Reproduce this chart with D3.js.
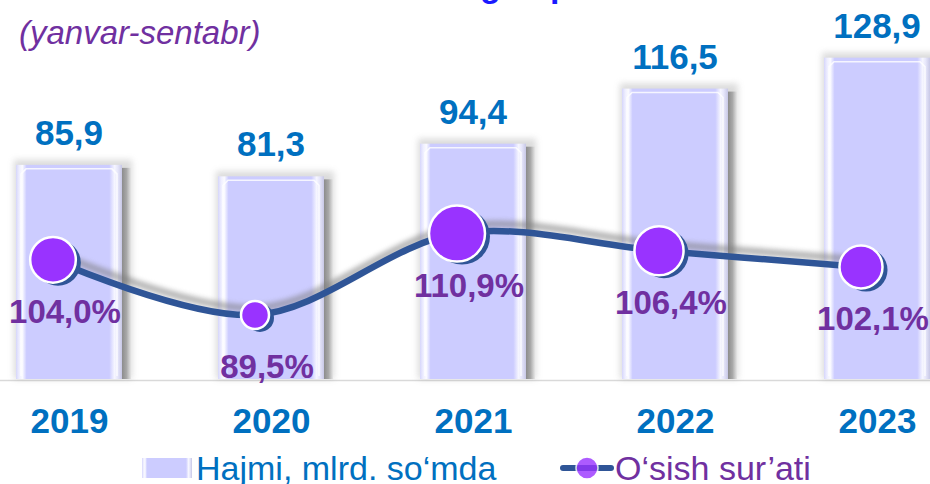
<!DOCTYPE html>
<html>
<head>
<meta charset="utf-8">
<script src="https://cdn.jsdelivr.net/npm/d3@7"></script>
<style>
  html, body { margin: 0; padding: 0; background: #fff; }
  svg { display: block; font-family: "Liberation Sans", Arial, sans-serif; }
</style>
</head>
<body>
<div id="chart"></div>
<script>
// data
var years = ["2019", "2020", "2021", "2022", "2023"];
var volume = [85.9, 81.3, 94.4, 116.5, 128.9];
var volumeLabels = ["85,9", "81,3", "94,4", "116,5", "128,9"];
var growth = [104.0, 89.5, 110.9, 106.4, 102.1];
var growthLabels = ["104,0%", "89,5%", "110,9%", "106,4%", "102,1%"];
var titleText = "Ko\u2018rsatilgan pullik xizmatlar";
var subtitleText = "(yanvar-sentabr)";
var legendBars = "Hajmi, mlrd. so\u2018mda";
var legendLine = "O\u2018sish sur\u2019ati";

var width = 930, height = 484;
var barColor = "#ccccff", lineColor = "#2f5597", dotColor = "#9933ff";
var blue = "#0070c0", purple = "#7030a0";

var svg = d3.select("#chart").append("svg")
	.attr("width", width)
	.attr("height", height);

var defs = svg.append("defs");

// bar face gradient (bevel look)
var g1 = defs.append("linearGradient").attr("id", "barFace");
[["0%", "#d6d6fb"], ["3%", "#eeeeff"], ["6%", "#fbfbff"], ["10%", barColor],
 ["88%", barColor], ["93%", "#f6f6ff"], ["96%", "#e6e6fa"], ["100%", "#c8c8e6"]]
	.forEach(s => g1.append("stop").attr("offset", s[0]).attr("stop-color", s[1]));

var g2 = defs.append("linearGradient").attr("id", "barSide");
[["0%", "#8c8c8c"], ["50%", "#a8a8a8"], ["100%", "#e6e6e6"]]
	.forEach(s => g2.append("stop").attr("offset", s[0]).attr("stop-color", s[1]));

defs.append("filter").attr("id", "blur3")
	.attr("x", "-20%").attr("y", "-20%").attr("width", "140%").attr("height", "140%")
	.append("feGaussianBlur").attr("stdDeviation", 3);
defs.append("filter").attr("id", "blur2")
	.attr("x", "-20%").attr("y", "-50%").attr("width", "140%").attr("height", "200%")
	.append("feGaussianBlur").attr("stdDeviation", 2.5);

// scales
var x = d3.scalePoint().domain(years).range([69, 877]);
var y = d3.scaleLinear().domain([0, 140]).range([379, 30]);
var y2 = d3.scaleLinear().domain([80, 120]).range([351, 199]);
var r = d3.scalePow().exponent(3).domain([89.5, 110.9]).range([14, 28]);
var barW = 106;
var lineShift = -16;

var data = years.map((d, i) => ({
	year: d, vol: volume[i], volLabel: volumeLabels[i],
	growth: growth[i], growthLabel: growthLabels[i]
}));

// title (mostly cut off at the top edge)
var title = svg.append("text")
	.attr("y", -3)
	.attr("font-size", 34)
	.attr("font-weight", "bold")
	.attr("fill", "#1a1aff")
	.text(titleText);
var pre = title.node().getSubStringLength(0, titleText.indexOf("gan"));
title.attr("x", 480 - pre);

svg.append("text")
	.attr("x", 19).attr("y", 44)
	.attr("font-size", 33)
	.attr("font-style", "italic")
	.attr("fill", purple)
	.text(subtitleText);

// baseline
svg.append("line")
	.attr("x1", 0).attr("x2", width)
	.attr("y1", y(0) + 1.5).attr("y2", y(0) + 1.5)
	.attr("stroke", "#d9d9d9").attr("stroke-width", 1.5);

// bars
var bars = svg.append("g").selectAll("g").data(data).join("g");

bars.append("rect")
	.attr("x", d => x(d.year) - barW / 2 - 2)
	.attr("y", d => y(d.vol) - 5)
	.attr("width", barW + 12)
	.attr("height", d => y(0) - y(d.vol) + 5)
	.attr("fill", "#9a9a9a").attr("opacity", 0.35)
	.attr("filter", "url(#blur3)");

bars.append("rect")
	.attr("x", d => x(d.year) + barW / 2)
	.attr("y", d => y(d.vol) + 3)
	.attr("width", 9)
	.attr("height", d => y(0) - y(d.vol) - 3)
	.attr("fill", "url(#barSide)");

bars.append("rect")
	.attr("x", d => x(d.year) - barW / 2)
	.attr("y", d => y(d.vol))
	.attr("width", barW)
	.attr("height", d => y(0) - y(d.vol))
	.attr("fill", "url(#barFace)");

// inner bevel highlight
bars.append("path")
	.attr("d", d => {
		var l = x(d.year) - barW / 2, rr = x(d.year) + barW / 2, t = y(d.vol), b = y(0);
		return "M" + (l + 5) + "," + (b - 3) + "L" + (l + 5) + "," + (t + 9) +
			"L" + (l + 10) + "," + (t + 4) + "L" + (rr - 10) + "," + (t + 4) +
			"L" + (rr - 5) + "," + (t + 9) + "L" + (rr - 5) + "," + (b - 3);
	})
	.attr("fill", "none").attr("stroke", "#ffffff")
	.attr("stroke-width", 1.5).attr("opacity", 0.8);

bars.append("text")
	.attr("x", d => x(d.year))
	.attr("y", d => y(d.vol) - 20)
	.attr("text-anchor", "middle")
	.attr("font-size", 35).attr("font-weight", "bold")
	.attr("fill", blue)
	.text(d => d.volLabel);

// growth line
var line = d3.line()
	.x(d => x(d.year) + lineShift)
	.y(d => y2(d.growth))
	.curve(d3.curveCatmullRom.alpha(0.5));

svg.append("path")
	.datum(data)
	.attr("d", line)
	.attr("transform", "translate(3,-7)")
	.attr("fill", "none").attr("stroke", "#7a7a7a")
	.attr("stroke-width", 7).attr("opacity", 0.55)
	.attr("filter", "url(#blur2)");

svg.append("path")
	.datum(data)
	.attr("d", line)
	.attr("fill", "none").attr("stroke", lineColor)
	.attr("stroke-width", 6.5).attr("stroke-linecap", "round");

var dots = svg.append("g").selectAll("g").data(data).join("g")
	.attr("transform", d => "translate(" + (x(d.year) + lineShift) + "," + y2(d.growth) + ")");

dots.append("circle")
	.attr("cx", 5).attr("cy", 3)
	.attr("r", d => r(d.growth))
	.attr("fill", lineColor);

dots.append("circle")
	.attr("r", d => r(d.growth))
	.attr("fill", dotColor)
	.attr("stroke", "#fff").attr("stroke-width", 2.5);

svg.append("g").selectAll("text").data(data).join("text")
	.attr("x", d => x(d.year) - 4)
	.attr("y", d => y2(d.growth) + 63)
	.attr("text-anchor", "middle")
	.attr("font-size", 33).attr("font-weight", "bold")
	.attr("fill", purple)
	.text(d => d.growthLabel);

// year axis
var axis = svg.append("g")
	.attr("transform", "translate(0," + (y(0) + 54) + ")")
	.call(d3.axisBottom(x).tickSize(0).tickPadding(0));
axis.select(".domain").remove();
axis.selectAll("text")
	.attr("font-size", 35).attr("font-weight", "bold")
	.attr("font-family", "Liberation Sans, Arial, sans-serif")
	.attr("fill", blue)
	.attr("dy", 0);

// legend
var leg = svg.append("g");
leg.append("rect")
	.attr("x", 142).attr("y", 458).attr("width", 50).attr("height", 20)
	.attr("fill", "url(#barFace)");
leg.append("text")
	.attr("x", 196).attr("y", 480)
	.attr("font-size", 34).attr("fill", blue)
	.text(legendBars);

leg.append("line")
	.attr("x1", 563).attr("x2", 611).attr("y1", 468).attr("y2", 468)
	.attr("stroke", lineColor).attr("stroke-width", 6).attr("stroke-linecap", "round");
leg.append("circle")
	.attr("cx", 587).attr("cy", 468).attr("r", 11)
	.attr("fill", dotColor).attr("opacity", 0.8)
	.attr("stroke", "#fff").attr("stroke-width", 1.5);
leg.append("text")
	.attr("x", 615).attr("y", 480)
	.attr("font-size", 34).attr("fill", purple)
	.text(legendLine);
</script>
</body>
</html>
